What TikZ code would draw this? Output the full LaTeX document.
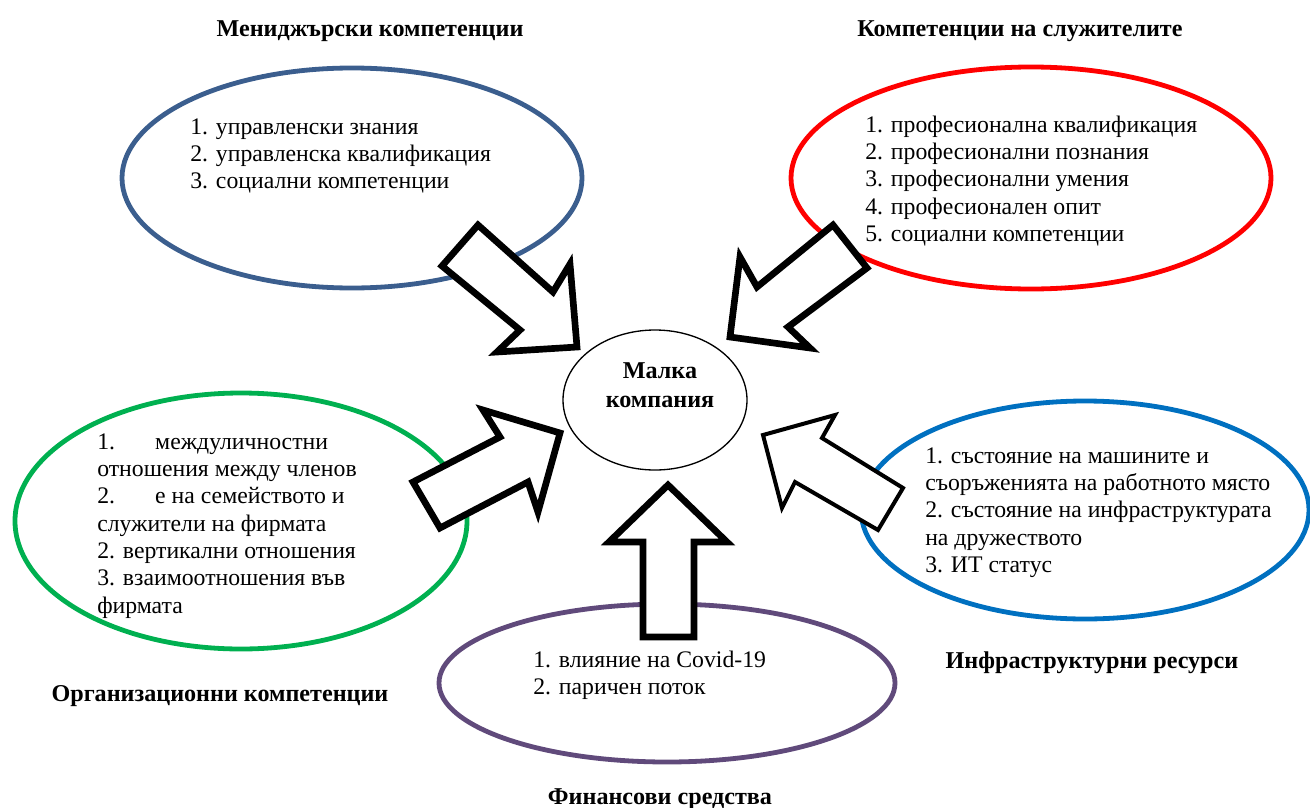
\documentclass[tikz,border=0pt]{standalone}
\usepackage{fontspec}
\setmainfont{Liberation Serif}
\usetikzlibrary{shapes.geometric}
\definecolor{cblue}{RGB}{59,94,142}
\definecolor{cred}{RGB}{255,0,0}
\definecolor{cgreen}{RGB}{0,176,80}
\definecolor{cblueb}{RGB}{0,112,192}
\definecolor{cpurple}{RGB}{96,74,123}
\newcommand\mylst[1]{\begin{tabular}[t]{@{}l@{}}#1\end{tabular}}
\newcommand\tabn[1]{\hbox to 43.5pt{#1\hfil}}
\begin{document}
\begin{tikzpicture}[x=0.75pt,y=-0.75pt,
  ell/.style={line width=3.6pt},
  bigarrow/.style={draw=black,fill=white,line width=5pt,line join=miter},
  thinarrow/.style={draw=black,fill=white,line width=3pt,line join=miter},
  listtxt/.style={inner sep=0pt,anchor=base west,font=\fontsize{17.8}{20.5}\selectfont},
  title/.style={inner sep=0pt,anchor=base,font=\fontsize{18.1}{20.5}\selectfont\bfseries}]
\useasboundingbox (0,0) rectangle (1310,807);
% ellipses
\draw[ell,cblue] (352,178) ellipse [x radius=230,y radius=110];
\draw[ell,cred] (1031,178) ellipse [x radius=240,y radius=111];
\draw[ell,cgreen] (241,521) ellipse [x radius=226,y radius=128];
\draw[ell,cblueb] (1085,510) ellipse [x radius=224,y radius=109];
\draw[ell,cpurple] (667,683) ellipse [x radius=228,y radius=79];
% centre
\node[draw,line width=1pt,ellipse,minimum width=138pt,minimum height=105pt,inner sep=0pt] (c) at (655,400) {};
\node[title] (c1) at (660,378) {Малка};
\node[title] (c2) at (660,407) {компания};
% arrows
\path[bigarrow] (478,225) -- (553,292) -- (570,264) -- (577,347) -- (497,352) -- (520,330) -- (442,266) -- cycle;
\path[bigarrow] (833,225) -- (757,287) -- (740,257) -- (730,337) -- (810,348) -- (788,327) -- (867,268) -- cycle;
\path[bigarrow] (413,482) -- (500,437) -- (483,410) -- (560,433) -- (538,512) -- (528,482) -- (440,528) -- cycle;
\path[bigarrow] (668,485) -- (727,542) -- (694,542) -- (694,637) -- (643,637) -- (643,542) -- (609,542) -- cycle;
\path[thinarrow] (763,435) -- (835,415) -- (822,438) -- (903,488) -- (878,530) -- (795,482) -- (782,508) -- cycle;
% lists
\node[listtxt] (l1) at (190,134) {\mylst{1. управленски знания\\2. управленска квалификация\\3. социални компетенции}};
\node[listtxt] (l2) at (865,132) {\mylst{1. професионална квалификация\\2. професионални познания\\3. професионални умения\\4. професионален опит\\5. социални компетенции}};
\node[listtxt] (l3) at (97,449) {\mylst{\tabn{1.}междуличностни\\отношения между членов\\\tabn{2.}е на семейството и\\служители на фирмата\\2. вертикални отношения\\3. взаимоотношения във\\фирмата}};
\node[listtxt] (l4) at (925,463) {\mylst{1. състояние на машините и\\съоръженията на работното място\\2. състояние на инфраструктурата\\на дружеството\\3. ИТ статус}};
\node[listtxt] (l5) at (533,667) {\mylst{1. влияние на Covid-19\\2. паричен поток}};
% titles
\node[title] (t1) at (370,36) {Мениджърски компетенции};
\node[title] (t2) at (1020,36) {Компетенции на служителите};
\node[title] (t3) at (220,701) {Организационни компетенции};
\node[title] (t4) at (1092,668) {Инфраструктурни ресурси};
\node[title] (t5) at (660,804) {Финансови средства};
\end{tikzpicture}
\end{document}
